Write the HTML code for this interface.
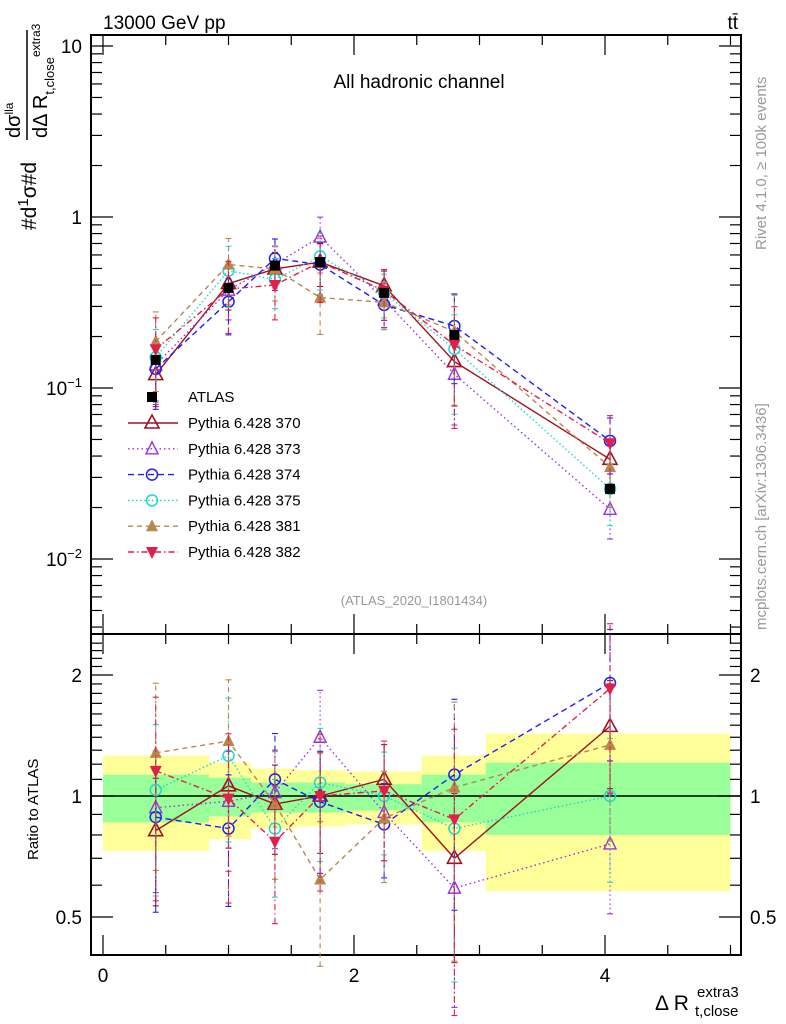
<!DOCTYPE html>
<html><head><meta charset="utf-8"><style>
body{margin:0;background:#fff;}
svg{display:block;font-family:"Liberation Sans",sans-serif;}
</style></head><body>
<svg id="chart" width="786" height="1024" viewBox="0 0 786 1024">
<g id="bands"></g>
<g id="axes"></g>
<g id="series"></g>
<g id="texts">
<text x="103" y="29" font-size="19">13000 GeV pp</text>
<text x="738" y="29" font-size="19" text-anchor="end">tt̄</text>
<text x="419" y="88" font-size="19" text-anchor="middle">All hadronic channel</text>
<text x="414" y="605" font-size="13" fill="#999" text-anchor="middle">(ATLAS_2020_I1801434)</text>
<text transform="translate(766,250) rotate(-90)" font-size="15" fill="#999">Rivet 4.1.0, ≥ 100k events</text>
<text transform="translate(766,630) rotate(-90)" font-size="15" fill="#999">mcplots.cern.ch [arXiv:1306.3436]</text>
<text transform="translate(38,860) rotate(-90)" font-size="15">Ratio to ATLAS</text>
<g>
<text transform="translate(36,230) rotate(-90)" font-size="21">#d<tspan dy="-8" font-size="15">1</tspan><tspan dy="8">σ</tspan>#d</text>
<line x1="27" y1="140" x2="27" y2="30" stroke="#000" stroke-width="1.5"/>
<text transform="translate(20,138) rotate(-90)" font-size="20">dσ<tspan dy="-7" font-size="12">lla</tspan></text>
<text transform="translate(47,138) rotate(-90)" font-size="20">dΔ R<tspan dy="7" font-size="13">t,close</tspan><tspan dy="-14" font-size="12">extra3</tspan></text>
</g>
<g>
<text x="655" y="1010" font-size="21">Δ R</text>
<text x="697" y="997" font-size="15">extra3</text>
<text x="695" y="1016" font-size="15">t,close</text>
</g>
</g>
<g id="legend"></g>
</svg>
<script>
const xCenters=[0.42,1.0,1.37,1.73,2.24,2.8,4.04];
const binEdges=[0,0.845,1.18,1.55,1.93,2.54,3.05,5.0];
const atlasValues=[0.146,0.385,0.52,0.545,0.36,0.204,0.0257];
const yellowHi=[1.26,1.21,1.17,1.16,1.15,1.26,1.43];
const yellowLo=[0.73,0.78,0.83,0.84,0.85,0.73,0.58];
const greenHi=[1.13,1.11,1.08,1.08,1.07,1.13,1.21];
const greenLo=[0.86,0.89,0.91,0.91,0.92,0.86,0.80];
const r370=[0.82,1.06,0.955,1.0,1.10,0.70,1.49];
const r373=[0.935,0.97,1.02,1.40,0.91,0.59,0.76];
const r374=[0.886,0.83,1.10,0.967,0.85,1.13,1.91];
const r375=[1.035,1.26,0.83,1.08,1.0,0.83,1.0];
const r381=[1.28,1.37,0.955,0.62,0.88,1.05,1.34];
const r382=[1.155,0.985,0.77,1.0,1.03,0.875,1.85];
const relErr=[0.35,0.3,0.25,0.28,0.22,0.45,0.3];
const yTicksMain=[10,1,0.1,0.01];
const yTickLabelsMain=["10","1","10^-1","10^-2"];
const ratioTicks=[2,1,0.5];
const xTicks=[0,2,4];

const NS="http://www.w3.org/2000/svg";
const L=91,R=741,MT=35,MB=634,RT=634,RB=955;
const X=v=>103+(v)*125.5;
const Y=v=>217-171*Math.log10(v);
const YR=v=>796-402*Math.log10(v);
function mk(tag,attrs,parent){const e=document.createElementNS(NS,tag);for(const k in attrs)e.setAttribute(k,attrs[k]);parent.appendChild(e);return e;}
const bands=document.getElementById('bands'),axes=document.getElementById('axes'),ser=document.getElementById('series'),leg=document.getElementById('legend');

for(let i=0;i<xCenters.length;i++){
 const y=mk('rect',{x:X(binEdges[i]),width:X(binEdges[i+1])-X(binEdges[i]),y:YR(yellowHi[i]),height:YR(yellowLo[i])-YR(yellowHi[i]),fill:'#ffff99'},bands);
 
 
 const g=mk('rect',{x:X(binEdges[i]),width:X(binEdges[i+1])-X(binEdges[i]),y:YR(greenHi[i]),height:YR(greenLo[i])-YR(greenHi[i]),fill:'#99ff99'},bands);
 
 
}
mk('line',{x1:L,x2:R,y1:YR(1),y2:YR(1),stroke:'#000','stroke-width':1.5},bands);

const f1=mk('rect',{x:L,y:MT,width:R-L,height:MB-MT,fill:'none',stroke:'#000','stroke-width':2},axes);


const f2=mk('rect',{x:L,y:RT,width:R-L,height:RB-RT,fill:'none',stroke:'#000','stroke-width':2},axes);


for(let d=-3;d<=1;d++){for(let m=1;m<10;m++){const v=m*Math.pow(10,d);const y=Y(v);if(y<MT||y>MB)continue;const len=m==1?22:11;
 mk('line',{x1:L,x2:L+len,y1:y,y2:y,stroke:'#000','stroke-width':1.2},axes);mk('line',{x1:R,x2:R-len,y1:y,y2:y,stroke:'#000','stroke-width':1.2},axes);}}
yTicksMain.forEach((v,i)=>{const s=yTickLabelsMain[i];const t=mk('text',{x:82,y:Y(v)+7,'font-size':19,'text-anchor':'end'},axes);
 if(s.includes('^')){const [b,e]=s.split('^');t.textContent=b;const ts=mk('tspan',{dy:-8,'font-size':13},t);ts.textContent=e.replace('-','−');}else t.textContent=s;
 
 });
for(const v of [0.4,0.5,0.6,0.7,0.8,0.9,1,1.1,1.2,1.3,1.4,1.5,1.6,1.7,1.8,1.9,2,2.1,2.2,2.3,2.4]){const y=YR(v);if(y<RT||y>RB)continue;const len=(v==0.5||v==1||v==2)?22:11;
 mk('line',{x1:L,x2:L+len,y1:y,y2:y,stroke:'#000','stroke-width':1.2},axes);mk('line',{x1:R,x2:R-len,y1:y,y2:y,stroke:'#000','stroke-width':1.2},axes);}
ratioTicks.forEach(v=>{const a=mk('text',{x:82,y:YR(v)+7,'font-size':19,'text-anchor':'end'},axes);a.textContent=v;
 
 
 const b=mk('text',{x:750,y:YR(v)+7,'font-size':19},axes);b.textContent=v;
 
 });
for(let v=0;v<=5.01;v+=0.5){const x=X(v);const len=(Math.abs(v%2)<0.01)?20:10;
 for(const [yb,dir] of [[MT,1],[MB,-1],[RT,1],[RB,-1]])mk('line',{x1:x,x2:x,y1:yb,y2:yb+dir*len,stroke:'#000','stroke-width':1.2},axes);}
xTicks.forEach(v=>{const t=mk('text',{x:X(v),y:982,'font-size':19,'text-anchor':'middle'},axes);t.textContent=v;
 
 });

const seriesDefs=[
 {name:'Pythia 6.428 370',r:r370,color:'#a01020',dash:'',marker:'tri-open'},
 {name:'Pythia 6.428 373',r:r373,color:'#9a30e0',dash:'1.5,3',marker:'tri-open-s'},
 {name:'Pythia 6.428 374',r:r374,color:'#2020ee',dash:'6,4',marker:'circ'},
 {name:'Pythia 6.428 375',r:r375,color:'#20d8c8',dash:'1.5,2.5',marker:'circ'},
 {name:'Pythia 6.428 381',r:r381,color:'#b8864e',dash:'5,4',marker:'tri-fill'},
 {name:'Pythia 6.428 382',r:r382,color:'#e0204a',dash:'6,3,1.5,3',marker:'tri-down'}];
function marker(g,type,x,y,c){
 if(type=='tri-open')mk('polygon',{points:`${x},${y-8} ${x-7},${y+5} ${x+7},${y+5}`,fill:'none',stroke:c,'stroke-width':1.6},g);
 else if(type=='tri-open-s')mk('polygon',{points:`${x},${y-7} ${x-6},${y+5} ${x+6},${y+5}`,fill:'none',stroke:c,'stroke-width':1.4},g);
 else if(type=='circ')mk('circle',{cx:x,cy:y,r:5.5,fill:'none',stroke:c,'stroke-width':1.5},g);
 else if(type=='tri-fill')mk('polygon',{points:`${x},${y-7} ${x-6},${y+5} ${x+6},${y+5}`,fill:c},g);
 else if(type=='tri-down')mk('polygon',{points:`${x},${y+7} ${x-6},${y-5} ${x+6},${y-5}`,fill:c},g);
 else if(type=='sq')mk('rect',{x:x-5,y:y-5,width:10,height:10,fill:c},g);
}
seriesDefs.forEach((s,si)=>{
 const g=mk('g',{},ser);
 
 
 const vals=s.r.map((r,i)=>r*atlasValues[i]);
 for(const [fy,arr] of [[Y,vals],[YR,s.r]]){
  mk('polyline',{points:xCenters.map((x,i)=>X(x)+','+fy(arr[i])).join(' '),fill:'none',stroke:s.color,'stroke-width':1.4,'stroke-dasharray':s.dash},g);
  xCenters.forEach((x,i)=>{const e=relErr[i]*(1+0.1*si);const lo=Math.max(arr[i]*(1-e),1e-4),hi=arr[i]*(1+e);
   mk('line',{x1:X(x),x2:X(x),y1:fy(lo),y2:fy(hi),stroke:s.color,'stroke-width':1.1,'stroke-dasharray':s.dash},g);
   mk('line',{x1:X(x)-3,x2:X(x)+3,y1:fy(lo),y2:fy(lo),stroke:s.color,'stroke-width':1.1},g);
   mk('line',{x1:X(x)-3,x2:X(x)+3,y1:fy(hi),y2:fy(hi),stroke:s.color,'stroke-width':1.1},g);
   marker(g,s.marker,X(x),fy(arr[i]),s.color);});
 }
});
const ga=mk('g',{},ser);


xCenters.forEach((x,i)=>marker(ga,'sq',X(x),Y(atlasValues[i]),'#000'));

const lg0=mk('g',{},leg);


marker(lg0,'sq',152,397,'#000');
const t0=mk('text',{x:188,y:402,'font-size':15},lg0);t0.textContent='ATLAS';
seriesDefs.forEach((s,i)=>{const y=423+i*25.8;const g=mk('g',{},leg);
 
 
 mk('line',{x1:128,x2:178,y1:y,y2:y,stroke:s.color,'stroke-width':1.4,'stroke-dasharray':s.dash},g);
 marker(g,s.marker,152,y,s.color);
 const t=mk('text',{x:188,y:y+5,'font-size':15},g);t.textContent=s.name;});
</script>
</body></html>
